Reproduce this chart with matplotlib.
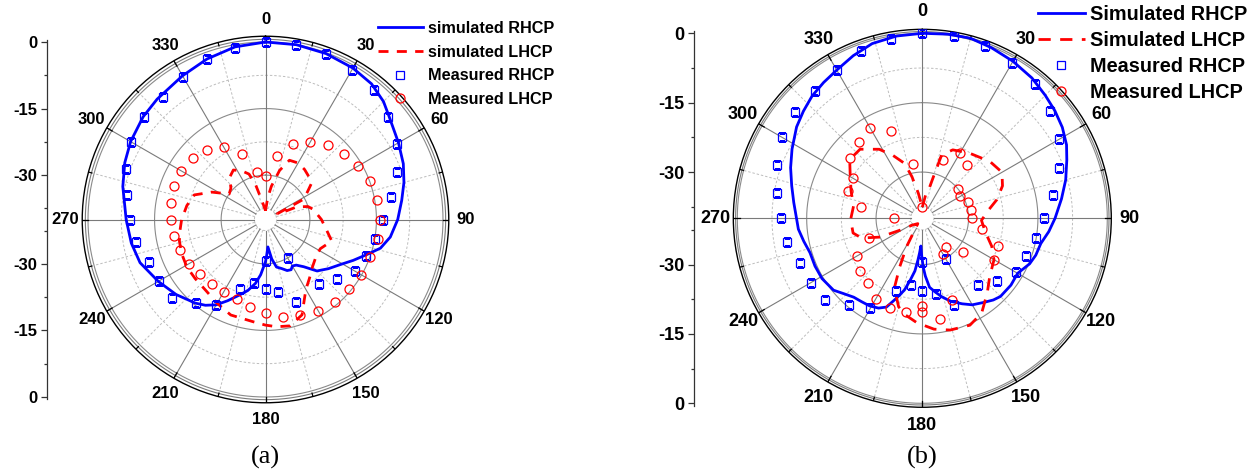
import numpy as np
import matplotlib

matplotlib.use("Agg")
import matplotlib.pyplot as plt

# ---------------- panel (a) ----------------
a_sim_rhcp_deg = [0, 10, 20, 30, 38, 45, 50, 60, 68, 75, 82, 90, 98, 104, 109, 115, 121, 128,
                  135, 141, 146, 150, 153, 157, 162, 167, 171, 175, 178, 180, 185, 189, 194, 199,
                  205, 210, 215, 220, 230, 240, 251, 260, 270, 283, 292, 300, 310, 318, 330,
                  340, 350, 360]
a_sim_rhcp_db = [0, 0, -0.2, -0.6, -1.2, -2.4, -3.7, -5.4, -6.5, -7.7, -9.0, -10.2, -11.6, -13.3,
                 -15.8, -18.2, -20.3, -22.0, -23.6, -26.3, -27.6, -27.9, -27.3, -27.5, -28.4,
                 -29.0, -31.0, -33.8, -32.0, -30.5, -27.5, -25.4, -23.5, -22.0, -19.8, -17.8,
                 -16.4, -15.4, -13.7, -12.1, -10.1, -9.3, -8.6, -7.0, -5.8, -4.9, -4.0, -3.5,
                 -2.6, -1.5, -0.5, 0]

a_sim_lhcp_deg = [0, 6, 10, 16, 22, 30, 38, 46, 52, 57, 62, 64, 67, 68, 73, 78, 90, 100, 108,
                  118, 126, 135, 143, 150, 155, 159, 167, 174, 180, 187, 200, 210, 220, 230, 239,
                  248, 256, 263, 270, 280, 289, 297, 305, 312, 320, 327, 334, 340, 344, 350, 360]
a_sim_lhcp_db = [-38, -35, -32.4, -28.5, -25.6, -25.3, -25.7, -26.3, -26.9, -28.8, -30.4, -37.0,
                 -36.4, -32.4, -30.0, -29.0, -27.4, -26.0, -24.3, -26.0, -25.9, -25.0, -23.5,
                 -21.8, -19.5, -17.0, -15.4, -15.7, -16.2, -16.8, -17.1, -18.2, -19.1, -19.3,
                 -19.3, -19.6, -20.0, -20.6, -21.1, -22.0, -23.0, -26.4, -30.0, -29.5, -27.5,
                 -26.7, -27.8, -29.1, -31.7, -36.0, -38]

a_meas_rhcp_deg = [0, 10, 20, 30, 40, 50, 60, 70, 80, 90, 100, 110, 120, 130, 140, 150, 160, 170,
                   180, 180, 190, 200, 210, 220, 230, 240, 250, 260, 270, 280, 290, 300, 310, 320,
                   330, 340, 350]
a_meas_rhcp_db = [0, 0, -0.2, -1.2, -1.8, -3.9, -5.8, -8.5, -11.2, -13.5, -14.9, -16.0, -16.6,
                  -19.1, -21.1, -29.9, -20.2, -23.5, -24.4, -30.7, -25.5, -23.4, -17.8, -15.5,
                  -12.6, -12.3, -12.0, -10.4, -9.4, -8.2, -6.6, -4.9, -4.2, -4.1, -2.8, -1.4, -0.7]

a_meas_lhcp_deg = [0, 10, 20, 30, 40, 50, 60, 70, 80, 90, 100, 110, 120, 130, 140, 150, 160, 170,
                   180, 190, 200, 210, 220, 230, 240, 250, 260, 270, 280, 290, 300, 310, 320, 330,
                   340, 350]
a_meas_lhcp_db = [-30.1, -25.5, -22.0, -19.8, -18.2, -16.9, -15.9, -14.9, -14.4, -14.2, -14.3,
                  -15.0, -15.1, -15.5, -15.8, -16.2, -17.0, -17.8, -18.9, -19.9, -20.9, -21.2,
                  -21.1, -20.8, -20.0, -19.6, -19.0, -18.6, -18.3, -18.1, -18.1, -18.6, -19.5,
                  -21.2, -24.4, -29.1]

# ---------------- panel (b) ----------------
b_sim_rhcp_deg = [0, 8, 15, 22, 30, 38, 45, 51, 57, 63, 68, 75, 82, 90, 96, 102, 108, 113, 120,
                  127, 135, 139, 144, 150, 155, 161, 166, 170, 174, 177, 179, 181, 183, 184.5, 186,
                  188, 191, 194, 198, 202, 206, 211, 216, 221, 226, 231, 239, 246, 253, 259, 265,
                  270, 277, 284, 291, 298, 306, 312, 318, 324, 330, 337, 344, 352, 360]
b_sim_rhcp_db = [0, 0.2, 0.3, -0.2, -0.8, -1.5, -2.4, -3.1, -3.9, -5.0, -6.3, -7.9, -9.6, -11.3,
                 -12.5, -13.8, -14.2, -14.8, -16.2, -16.0, -16.1, -16.6, -17.5, -18.4, -19.6,
                 -21.0, -22.5, -23.8, -25.0, -27.5, -29.5, -32.0, -34.0, -32.5, -30.9, -28.5,
                 -26.4, -24.0, -21.8, -19.3, -18.4, -17.9, -17.7, -17.4, -16.5, -15.3, -14.7,
                 -14.6, -14.6, -13.9, -13.1, -12.8, -12.0, -10.9, -9.5, -8.1, -6.4, -5.4, -4.4,
                 -3.7, -3.0, -1.8, -0.7, -0.2, 0]

b_sim_lhcp_deg = [0, 8, 13, 15, 17, 24, 36, 50, 60, 68, 76, 83, 92, 102, 112, 120, 131, 139, 148,
                  156, 166, 174, 183, 190, 195, 199, 202, 205, 209, 212, 220, 235, 242, 246, 252,
                  258, 269, 280, 291, 302, 309, 318, 328, 335, 342, 346, 351, 360]
b_sim_lhcp_db = [-37.6, -35.0, -33.3, -30.7, -25.7, -23.8, -22.6, -20.9, -20.1, -21.3, -23.4,
                 -25.6, -27.2, -26.1, -23.8, -22.1, -20.7, -18.6, -15.8, -14.7, -15.1, -15.9,
                 -17.4, -18.8, -20.2, -22.5, -24.1, -28.5, -33.0, -36.5, -38.5, -37.5, -34.5,
                 -30.0, -26.2, -24.7, -24.5, -24.9, -23.5, -21.6, -19.8, -19.9, -22.4, -25.0,
                 -27.5, -30.7, -34.5, -37.6]

b_meas_rhcp_deg = a_meas_rhcp_deg
b_meas_rhcp_db = [0, 0, -0.4, -1.3, -2.0, -3.9, -5.8, -8.5, -11.2, -13.6, -15.0, -16.1, -16.6,
                  -19.0, -21.1, -29.8, -20.0, -23.4, -24.3, -30.6, -25.4, -23.3, -17.5, -15.4,
                  -12.4, -12.2, -11.9, -10.2, -9.4, -8.1, -6.5, -4.9, -4.2, -4.0, -2.9, -1.5, -0.7]

b_meas_lhcp_deg = [0, 20, 30, 40, 50, 60, 70, 80, 90, 100, 110, 120, 130, 140, 150, 160, 170, 180,
                   180, 190, 200, 210, 220, 230, 240, 250, 270, 280, 290, 300, 310, 320, 330, 340,
                   350]
b_meas_lhcp_db = [-37.6, -26.6, -23.8, -25.0, -30.0, -30.5, -29.4, -29.4, -29.3, -26.8, -22.5,
                  -22.1, -28.5, -32.0, -31.2, -21.2, -17.8, -19.8, -21.1, -19.4, -19.4, -19.9,
                  -21.6, -22.4, -23.7, -27.8, -33.9, -26.5, -23.0, -22.7, -19.7, -18.6, -17.4,
                  -20.0, -28.1]

theta_labels = ["0", "30", "60", "90", "120", "150", "180", "210", "240", "270", "300", "330"]
radial_ticks = [40, 25, 10, -10, -25, -40]
radial_labels = ["0", "-15", "-30", "-30", "-15", "0"]
legend_a = ["simulated RHCP", "simulated LHCP", "Measured RHCP", "Measured LHCP"]
legend_b = ["Simulated RHCP", "Simulated LHCP", "Measured RHCP", "Measured LHCP"]

W, H = 1260, 475
SANS = "Liberation Sans"


def draw_panel(fig, center, r0px, rmax, gray_r, axis_x, fs, sim_r, sim_l, meas_r, meas_l,
               labels, leg_xy, leg_fs, leg_kw, dashes, caption):
    cx, cy = center
    frame = r0px * (40 + rmax) / 40
    rect = [(cx - frame) / W, (H - cy - frame) / H, 2 * frame / W, 2 * frame / H]
    ax = fig.add_axes(rect, projection="polar")
    ax.set_theta_zero_location("N")
    ax.set_theta_direction(-1)
    ax.set_ylim(-40, rmax)
    ax.grid(False)
    ax.set_yticks([])

    th = np.linspace(0, 2 * np.pi, 721)
    for r in (-30, -15, 0):
        ax.plot(th, np.full_like(th, r), color="#8a8a8a", lw=0.8, zorder=1)
    for r in (-37.5, -22.5, -7.5):
        ax.plot(th, np.full_like(th, r), color="#bdbdbd", lw=0.7, ls=(0, (2.5, 2)), zorder=1)
    ax.plot(th, np.full_like(th, gray_r), color="#7a7a7a", lw=0.8, zorder=1)
    for d in range(0, 360, 30):
        t = np.deg2rad(d)
        ax.plot([t, t], [-37.5, rmax], color="#7a7a7a", lw=0.8, zorder=1)
    for d in range(15, 360, 30):
        t = np.deg2rad(d)
        ax.plot([t, t], [-37.5, 0], color="#bdbdbd", lw=0.7, ls=(0, (2.5, 2)), zorder=1)
        ax.plot([t, t], [rmax - 0.8, rmax], color="black", lw=0.9, zorder=2)
    for d in range(0, 360, 30):
        t = np.deg2rad(d)
        ax.plot([t, t], [rmax - 1.4, rmax], color="black", lw=0.9, zorder=2)
    ax.spines["polar"].set_color("black")
    ax.spines["polar"].set_linewidth(1.0)

    ax.set_xticks(np.deg2rad(np.arange(0, 360, 30)))
    ax.set_xticklabels(theta_labels, fontsize=fs, fontweight="bold", family=SANS)
    ax.tick_params(axis="x", length=0, pad=fs * 0.45)

    h1, = ax.plot(np.deg2rad(sim_r[0]), sim_r[1], color="#0000ff", lw=2.0, zorder=4)
    h2, = ax.plot(np.deg2rad(sim_l[0]), sim_l[1], color="#ff0000", lw=2.0,
                  ls=(0, dashes), zorder=4)
    h3, = ax.plot(np.deg2rad(meas_r[0]), meas_r[1], ls="none", marker="s", ms=5.5,
                  mfc="none", mec="#0000ff", mew=0.9, zorder=5)
    h4, = ax.plot(np.deg2rad(meas_l[0]), meas_l[1], ls="none", marker="o", ms=6.5,
                  mfc="none", mec="#ff0000", mew=0.9, zorder=5)

    leg = ax.legend([h1, h2, h3, h4], labels, loc="upper left",
                    bbox_to_anchor=(leg_xy[0] / W, 1 - leg_xy[1] / H),
                    bbox_transform=fig.transFigure, frameon=False, numpoints=1,
                    prop={"family": SANS, "weight": "bold", "size": leg_fs},
                    borderpad=0, borderaxespad=0, **leg_kw)
    leg.set_zorder(10)

    # linear radial scale drawn at the left of the plot
    span = 40 + rmax
    lax = fig.add_axes([axis_x / W, rect[1], 0.001, rect[3]])
    lax.set_ylim(-span, span)
    lax.patch.set_visible(False)
    for s in ("right", "top", "bottom"):
        lax.spines[s].set_visible(False)
    lax.spines["left"].set_bounds(-40.5, 40.5)
    lax.spines["left"].set_color("#333333")
    lax.spines["left"].set_linewidth(0.9)
    lax.set_xticks([])
    lax.set_yticks(radial_ticks)
    lax.set_yticklabels(radial_labels, fontsize=fs, fontweight="bold", family=SANS)
    lax.set_yticks([32.5, 17.5, 2.5, -2.5, -17.5, -32.5], minor=True)
    lax.tick_params(axis="y", which="major", length=4, width=0.9, pad=3, color="#333333")
    lax.tick_params(axis="y", which="minor", length=2.5, width=0.9, color="#333333")

    fig.text(cx / W, 1 - 457 / H, caption, ha="center", va="center",
             family="Liberation Serif", fontsize=19)


fig = plt.figure(figsize=(W / 100, H / 100), dpi=100)

draw_panel(fig, (265.5, 219.5), 177.5, 1.3, 0.6, 47, 12,
           (a_sim_rhcp_deg, a_sim_rhcp_db), (a_sim_lhcp_deg, a_sim_lhcp_db),
           (a_meas_rhcp_deg, a_meas_rhcp_db), (a_meas_lhcp_deg, a_meas_lhcp_db),
           legend_a, (378, 21), 11.7,
           dict(handlelength=2.75, handletextpad=0.3, labelspacing=0.53), (3.6, 3.0), "(a)")

draw_panel(fig, (922.3, 218.3), 185, 0.86, 0.37, 694, 13,
           (b_sim_rhcp_deg, b_sim_rhcp_db), (b_sim_lhcp_deg, b_sim_lhcp_db),
           (b_meas_rhcp_deg, b_meas_rhcp_db), (b_meas_lhcp_deg, b_meas_lhcp_db),
           legend_b, (1038, 5), 14.3,
           dict(handlelength=2.35, handletextpad=0.25, labelspacing=0.35), (4.4, 3.4), "(b)")

fig.savefig("out.png", dpi=100)
